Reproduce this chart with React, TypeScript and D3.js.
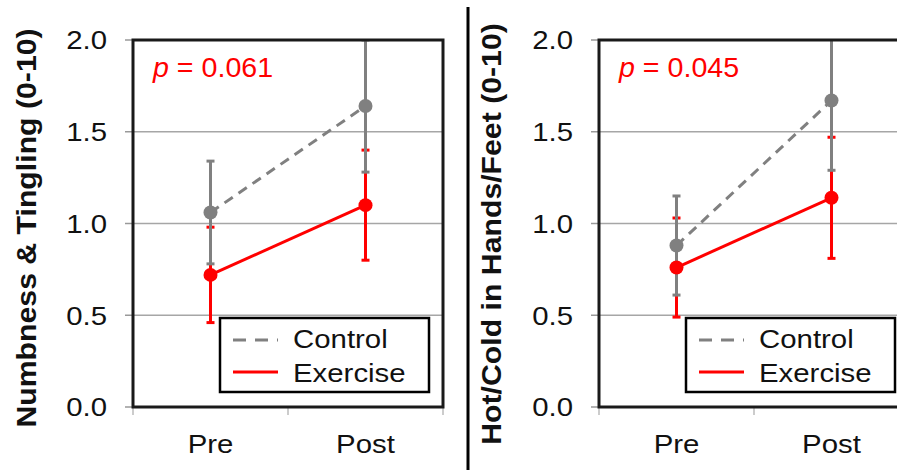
import React from "react";
import * as d3 from "d3";

const categories = ["Pre", "Post"];
const yTicks = [0, 0.5, 1.0, 1.5, 2.0];

// Panel 1: Numbness & Tingling
const numbControlMean = [1.06, 1.64];
const numbControlErr = [0.28, 0.36];
const numbExerciseMean = [0.72, 1.1];
const numbExerciseErr = [0.26, 0.3];

// Panel 2: Hot/Cold in Hands/Feet
const hotControlMean = [0.88, 1.67];
const hotControlErr = [0.27, 0.38];
const hotExerciseMean = [0.76, 1.14];
const hotExerciseErr = [0.27, 0.33];

const panels = [
  {
    id: "p1",
    ylabel: "Numbness & Tingling (0-10)",
    pValue: "0.061",
    control: numbControlMean,
    controlErr: numbControlErr,
    exercise: numbExerciseMean,
    exerciseErr: numbExerciseErr,
    x0: 133,
    x1: 443,
    labelX: 36,
    labelY: 228,
  },
  {
    id: "p2",
    ylabel: "Hot/Cold in Hands/Feet (0-10)",
    pValue: "0.045",
    control: hotControlMean,
    controlErr: hotControlErr,
    exercise: hotExerciseMean,
    exerciseErr: hotExerciseErr,
    x0: 599,
    x1: 909,
    labelX: 501,
    labelY: 234,
  },
];

const GRAY = "#808080";
const RED = "#ff0000";
const FONT = "'Liberation Sans', Arial, sans-serif";
const SX = 1.13;

function Panel({ p }: { p: (typeof panels)[number] }) {
  const top = 40;
  const bottom = 407;
  const y = d3.scaleLinear().domain([0, 2]).range([bottom, top]);
  const x = d3.scaleBand().domain(categories).range([p.x0, p.x1]).padding(0);
  const cx = (c: string) => (x(c) as number) + x.bandwidth() / 2;
  const line = d3
    .line<number>()
    .x((_, i) => cx(categories[i]))
    .y((d) => y(d));
  const boxW = 209;
  const boxR = p.x1 - 14;
  const boxL = boxR - boxW;
  const series = [
    { mean: p.exercise, err: p.exerciseErr, color: RED },
    { mean: p.control, err: p.controlErr, color: GRAY },
  ];
  return (
    <g>
      <defs>
        <clipPath id={`clip-${p.id}`}>
          <rect x={p.x0} y={top} width={p.x1 - p.x0} height={bottom - top} />
        </clipPath>
      </defs>
      {/* gridlines */}
      {yTicks
        .filter((t) => t > 0 && t < 2)
        .map((t) => (
          <line key={t} x1={p.x0} x2={p.x1} y1={y(t)} y2={y(t)} stroke="#a6a6a6" strokeWidth={1.5} />
        ))}
      {/* y ticks + labels */}
      {yTicks.map((t) => (
        <g key={"yt" + t}>
          <line x1={p.x0 - 8} x2={p.x0} y1={y(t)} y2={y(t)} stroke="#999" strokeWidth={1.5} />
          <g transform={`translate(${p.x0 - 26},${y(t)}) scale(${SX},1)`}>
            <text textAnchor="end" dy="0.36em" fontSize={26} fontFamily={FONT} fill="#111">
              {t.toFixed(1)}
            </text>
          </g>
        </g>
      ))}
      {/* x ticks */}
      {[0, 1, 2].map((i) => {
        const xx = p.x0 + i * x.bandwidth();
        return <line key={"xt" + i} x1={xx} x2={xx} y1={bottom} y2={bottom + 8} stroke="#bbb" strokeWidth={1.5} />;
      })}
      {categories.map((c) => (
        <g key={c} transform={`translate(${cx(c)},453) scale(${SX},1)`}>
          <text textAnchor="middle" fontSize={26} fontFamily={FONT} fill="#111">
            {c}
          </text>
        </g>
      ))}
      {/* error bars */}
      <g clipPath={`url(#clip-${p.id})`}>
        {series.map((s, si) =>
          s.mean.map((m, i) => {
            const xx = cx(categories[i]);
            const hi = y(m + s.err[i]);
            const lo = y(m - s.err[i]);
            return (
              <g key={si + "-" + i} stroke={s.color} strokeWidth={3}>
                <line x1={xx} x2={xx} y1={hi} y2={lo} />
                <line x1={xx - 4} x2={xx + 4} y1={hi} y2={hi} />
                <line x1={xx - 4} x2={xx + 4} y1={lo} y2={lo} />
              </g>
            );
          })
        )}
      </g>
      {/* lines */}
      <path d={line(p.control) || ""} fill="none" stroke={GRAY} strokeWidth={3} strokeDasharray="10,7" />
      <path d={line(p.exercise) || ""} fill="none" stroke={RED} strokeWidth={3} />
      {p.control.map((m, i) => (
        <circle key={"c" + i} cx={cx(categories[i])} cy={y(m)} r={7} fill={GRAY} />
      ))}
      {p.exercise.map((m, i) => (
        <circle key={"e" + i} cx={cx(categories[i])} cy={y(m)} r={7} fill={RED} />
      ))}
      {/* frame */}
      <rect x={p.x0} y={top} width={p.x1 - p.x0} height={bottom - top} fill="none" stroke="#1a1a1a" strokeWidth={3} />
      {/* p value */}
      <g transform={`translate(${p.x0 + 20},77) scale(1.06,1)`}>
        <text fontSize={27} fontFamily={FONT} fill={RED}>
          <tspan fontStyle="italic">p</tspan> = {p.pValue}
        </text>
      </g>
      {/* legend */}
      <rect x={boxL} y={318} width={boxW} height={74} fill="#fff" stroke="#000" strokeWidth={2.5} />
      <line x1={boxL + 13} x2={boxL + 58} y1={340} y2={340} stroke={GRAY} strokeWidth={3} strokeDasharray="13,9" />
      <line x1={boxL + 13} x2={boxL + 58} y1={372} y2={372} stroke={RED} strokeWidth={3} />
      <g transform={`translate(${boxL + 73},348) scale(${SX},1)`}>
        <text fontSize={26} fontFamily={FONT} fill="#111">Control</text>
      </g>
      <g transform={`translate(${boxL + 73},382) scale(${SX},1)`}>
        <text fontSize={26} fontFamily={FONT} fill="#111">Exercise</text>
      </g>
      {/* y label */}
      <g transform={`translate(${p.labelX},${p.labelY}) rotate(-90) scale(1.12,1)`}>
        <text textAnchor="middle" fontSize={27} fontWeight="bold" fontFamily={FONT} fill="#111">
          {p.ylabel}
        </text>
      </g>
    </g>
  );
}

export default function App() {
  return (
    <svg
      width={897}
      height={470}
      style={{ position: "absolute", left: 0, top: 0, background: "#fff" }}
    >
      <rect width={897} height={470} fill="#fff" />
      {panels.map((p) => (
        <Panel key={p.id} p={p} />
      ))}
      <line x1={468} x2={468} y1={7} y2={470} stroke="#000" strokeWidth={3} />
    </svg>
  );
}
